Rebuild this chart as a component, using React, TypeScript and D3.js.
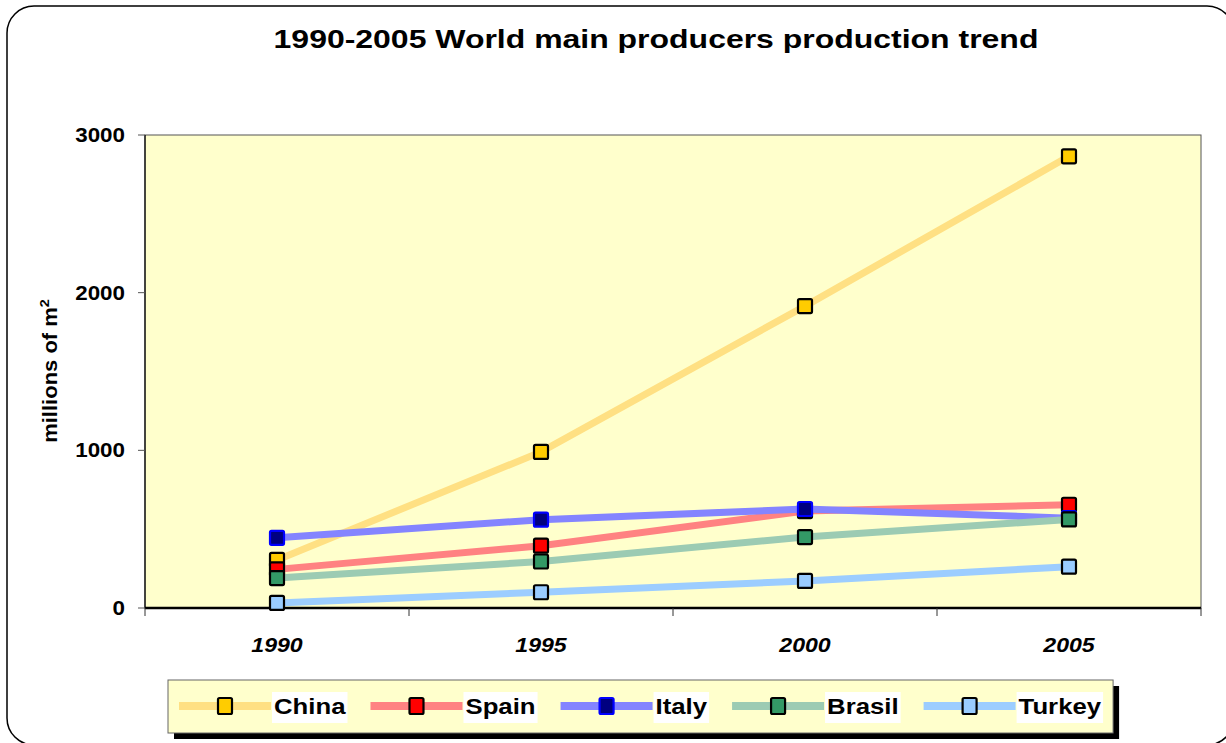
import React, { useEffect, useRef } from 'react';
import * as d3 from 'd3';

// data (millions of m²)
const years = ['1990', '1995', '2000', '2005'];
const china = [305, 990, 1915, 2865];
const spain = [245, 395, 615, 655];
const italy = [445, 560, 628, 570];
const brasil = [190, 295, 450, 562];
const turkey = [32, 100, 172, 262];
const yTicks = [0, 1000, 2000, 3000];

const seriesNames = ['China', 'Spain', 'Italy', 'Brasil', 'Turkey'];
const seriesValues = [china, spain, italy, brasil, turkey];
const lineColors = ['#ffe083', '#ff8282', '#8484ff', '#9ccbb3', '#9ccdff'];
const markerFills = ['#ffcc00', '#ff0000', '#000080', '#339966', '#99ccff'];
const markerStrokes = ['#000000', '#000000', '#0000ff', '#000000', '#000000'];

const FONT = "Arial, 'Liberation Sans', sans-serif";
// the original rendering is a bit wider than plain Arial
const STRETCH = 1.17;

const App: React.FC = () => {
    const svgRef = useRef<SVGSVGElement | null>(null);

    useEffect(() => {
        if (!svgRef.current) return;
        const width = 1226;
        const height = 743;
        const svg = d3.select(svgRef.current);
        svg.selectAll('*').remove();
        svg.attr('width', width).attr('height', height);

        // helper: bold text stretched horizontally around its anchor
        const label = (
            parent: d3.Selection<any, any, any, any>,
            x: number, y: number, txt: string, size: number,
            anchor: string, sx: number, italic = false
        ) => parent.append('text')
            .attr('transform', `translate(${x},${y}) scale(${sx},1)`)
            .attr('text-anchor', anchor)
            .attr('font-family', FONT)
            .attr('font-size', size)
            .attr('font-weight', 'bold')
            .attr('font-style', italic ? 'italic' : 'normal')
            .attr('fill', '#000')
            .text(txt);

        // outer rounded frame
        svg.append('rect')
            .attr('x', 7).attr('y', 6)
            .attr('width', 1227).attr('height', 739)
            .attr('rx', 27).attr('ry', 27)
            .attr('fill', '#ffffff')
            .attr('stroke', '#000000')
            .attr('stroke-width', 1.5);

        // title
        label(svg, 656, 48, '1990-2005 World main producers production trend', 26, 'middle', 1.23);

        const plot = { left: 145, right: 1201, top: 135, bottom: 608 };

        const x = d3.scaleBand()
            .domain(years)
            .range([plot.left, plot.right])
            .padding(0);

        const y = d3.scaleLinear()
            .domain([0, 3000])
            .range([plot.bottom, plot.top]);

        // plot background
        svg.append('rect')
            .attr('x', plot.left).attr('y', plot.top)
            .attr('width', plot.right - plot.left)
            .attr('height', plot.bottom - plot.top)
            .attr('fill', '#ffffcc')
            .attr('stroke', '#555555')
            .attr('stroke-width', 1);

        // y axis
        svg.append('line')
            .attr('x1', plot.left).attr('x2', plot.left)
            .attr('y1', plot.top).attr('y2', plot.bottom)
            .attr('stroke', '#000').attr('stroke-width', 1.2);
        yTicks.forEach(t => {
            svg.append('line')
                .attr('x1', plot.left - 7).attr('x2', plot.left)
                .attr('y1', y(t)).attr('y2', y(t))
                .attr('stroke', '#555').attr('stroke-width', 1);
            label(svg, plot.left - 20, y(t) + 7, String(t), 20, 'end', 1.12);
        });

        // x axis: ticks at band boundaries
        const boundaries = years.map(yr => x(yr)!).concat([plot.right]);
        svg.append('line')
            .attr('x1', plot.left).attr('x2', plot.right)
            .attr('y1', plot.bottom).attr('y2', plot.bottom)
            .attr('stroke', '#000').attr('stroke-width', 2.5);
        svg.selectAll('.xtick')
            .data(boundaries)
            .enter()
            .append('line')
            .attr('x1', d => d).attr('x2', d => d)
            .attr('y1', plot.bottom).attr('y2', plot.bottom + 8)
            .attr('stroke', '#333').attr('stroke-width', 1);
        years.forEach(yr => {
            label(svg, x(yr)! + x.bandwidth() / 2, 652, yr, 21, 'middle', 1.1, true);
        });

        // y axis title (rotated, stretched along the text direction)
        const yTitle = svg.append('text')
            .attr('transform', 'translate(57,371) rotate(-90) scale(1.1,1)')
            .attr('text-anchor', 'middle')
            .attr('font-family', FONT)
            .attr('font-size', 20)
            .attr('font-weight', 'bold');
        yTitle.append('tspan').text('millions of m');
        yTitle.append('tspan').attr('baseline-shift', '55%').attr('font-size', 13).text('2');

        // series lines + markers
        const line = d3.line<number>()
            .x((_, i) => x(years[i])! + x.bandwidth() / 2)
            .y(d => y(d));
        const ms = 14;
        seriesValues.forEach((vals, s) => {
            svg.append('path')
                .datum(vals)
                .attr('d', line)
                .attr('fill', 'none')
                .attr('stroke', lineColors[s])
                .attr('stroke-width', 7);
            svg.selectAll(`.m${s}`)
                .data(vals)
                .enter()
                .append('rect')
                .attr('x', (_, i) => x(years[i])! + x.bandwidth() / 2 - ms / 2)
                .attr('y', d => y(d) - ms / 2)
                .attr('width', ms).attr('height', ms)
                .attr('rx', 1.5)
                .attr('fill', markerFills[s])
                .attr('stroke', markerStrokes[s])
                .attr('stroke-width', 2.2);
        });

        // legend
        const legTop = 680;
        const legBottom = 733;
        const legLeft = 168;
        const legCy = 706;
        const gap = 25;
        const legend = svg.append('g');
        const shadow = legend.append('rect').attr('fill', '#000');
        const box = legend.append('rect')
            .attr('fill', '#ffffcc')
            .attr('stroke', '#666')
            .attr('stroke-width', 1);
        let cx = 179;
        seriesNames.forEach((name, s) => {
            legend.append('line')
                .attr('x1', cx).attr('x2', cx + 92)
                .attr('y1', legCy).attr('y2', legCy)
                .attr('stroke', lineColors[s])
                .attr('stroke-width', 8);
            legend.append('rect')
                .attr('x', cx + 46 - ms / 2).attr('y', legCy - ms / 2 - 1)
                .attr('width', ms).attr('height', ms + 2)
                .attr('rx', 1.5)
                .attr('fill', markerFills[s])
                .attr('stroke', markerStrokes[s])
                .attr('stroke-width', 2.2);
            const bg = legend.append('rect').attr('fill', '#fff');
            const t = label(legend, cx + 95, legCy + 8, name, 22, 'start', STRETCH);
            const tw = (t.node() as SVGTextElement).getComputedTextLength() * STRETCH;
            bg.attr('x', cx + 93).attr('y', 692).attr('width', tw + 4).attr('height', 31);
            cx = cx + 95 + tw + gap;
        });
        const legRight = cx - gap + 12;
        box.attr('x', legLeft).attr('y', legTop).attr('width', legRight - legLeft).attr('height', legBottom - legTop);
        shadow.attr('x', legLeft + 6).attr('y', legTop + 6).attr('width', legRight - legLeft).attr('height', legBottom - legTop);
    }, []);

    return (
        <div style={{ position: 'absolute', left: 0, top: 0 }}>
            <svg ref={svgRef} style={{ display: 'block' }}></svg>
        </div>
    );
};

export default App;
